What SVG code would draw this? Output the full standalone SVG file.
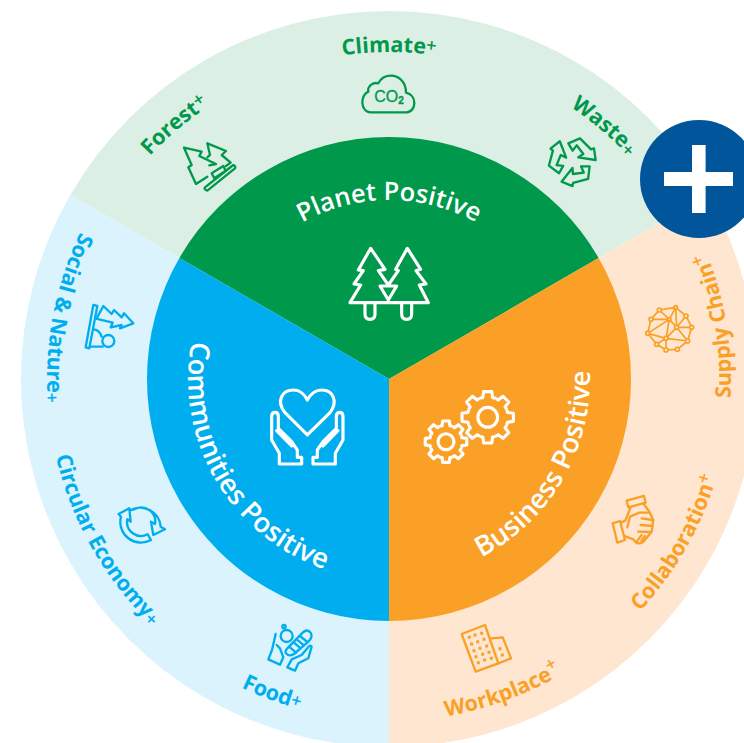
<svg xmlns="http://www.w3.org/2000/svg" width="744" height="743" viewBox="0 0 744 743">
<style>
text{font-family:"Open Sans","Noto Sans","Liberation Sans",sans-serif;text-anchor:middle}
.in{font-size:27.5px;font-weight:600;fill:#fff}
.out{font-size:21.5px;font-weight:700}
.p{font-size:18px;font-weight:600}
.g{fill:#00984A}.b{fill:#00AEEF}.o{fill:#FAA026}
.ic{fill:none;stroke-linejoin:round;stroke-linecap:round;stroke-width:7}
.w{stroke:#fff;stroke-width:9.5}.sg{stroke:#00984A}.sb{stroke:#00AEEF}.so{stroke:#FAA026}
</style>
<defs>
<path id="top327" d="M62,379A327,327 0 0 1 716,379"/>
<path id="top179" d="M210,379A179,179 0 0 1 568,379"/>
<path id="bot342" d="M47,379A342,342 0 0 0 731,379"/>
<path id="bot201" d="M188,379A201,201 0 0 0 590,379"/>
<path id="t" d="M72.1,-29.8Q76,-24 75.7,-18.9L98.8,-15.6L98.8,15.6L75.7,18.9Q76,24 72.1,29.8"/>
<g id="t2"><use href="#t"/><use href="#t" transform="rotate(45)"/></g>
<g id="t4"><use href="#t2"/><use href="#t2" transform="rotate(90)"/></g>
<g id="gear"><use href="#t4"/><use href="#t4" transform="rotate(180)"/></g>
<path id="rec" d="M115,190L150,175L183,208L192,205L197,240L145,232L160,222L140,196L128,212Z"/>
</defs>

<g id="outer-ring">
<path d="M389,379L70.3,195A368,368 0 0 1 707.7,195Z" fill="#DBEFE5"/>
<path d="M389,379L707.7,195A368,368 0 0 1 389,747Z" fill="#FEE6D0"/>
<path d="M389,379L389,747A368,368 0 0 1 70.3,195Z" fill="#DAF3FC"/>
</g>
<g id="connectors"></g>

<g id="planet-positive">
<path d="M389,379L179.4,258A242,242 0 0 1 598.6,258Z" fill="#00984A"/>
<text class="in" style="font-size:25.5px"><textPath href="#top179" startOffset="50%">Planet Positive</textPath></text>
<g class="ic w" transform="translate(330,230) scale(.3333)">
<path d="M122,55L85,120L100,122L72,162L92,165L60,218H295L268,165L288,162L258,122L272,118L232,55L197,118L205,122L175,165L145,122L165,118Z"/>
<path d="M150,168H200L175,210Z"/>
<path d="M105,220V252Q105,268 120,268Q135,268 135,252V220M215,220V252Q215,268 230,268Q245,268 245,252V220"/>
</g>
</g>

<g id="communities-positive">
<path d="M389,379L389,621A242,242 0 0 1 179.4,258Z" fill="#00AEEF"/>
<text class="in" transform="rotate(59.8 389 379)"><textPath href="#bot201" startOffset="50%">Communities Positive</textPath></text>
<g class="ic w" transform="translate(250,370) scale(.3333)">
<path d="M172,195L105,128C78,95 95,60 130,60C150,60 165,75 172,90C180,75 195,60 215,60C250,60 265,95 240,128Z"/>
<path d="M88,250L65,210V140Q65,127 75,127Q85,127 85,140V175L125,215L142,240V262H155V282H88ZM80,182L125,228"/>
<path d="M256,250L279,210V140Q279,127 269,127Q259,127 259,140V175L219,215L202,240V262H189V282H256ZM264,182L219,228"/>
</g>
</g>

<g id="business-positive">
<path d="M389,379L598.6,258A242,242 0 0 1 389,621Z" fill="#FAA026"/>
<text class="in" transform="rotate(-59.9 389 379)"><textPath href="#bot201" startOffset="50%">Business Positive</textPath></text>
<g fill="none" stroke="#fff" stroke-linejoin="round" transform="translate(410,370)">
<g transform="translate(77.7,47.3) scale(.26)" stroke-width="12"><use href="#gear"/><circle r="38"/></g>
<g transform="translate(36,71.7) scale(.21)" stroke-width="15"><use href="#gear"/><circle r="38"/></g>
</g>
</g>

<g id="climate">
<text class="out g"><textPath href="#top327" startOffset="50%">Climate<tspan class="p" dy="-3">+</tspan></textPath></text>
<g class="ic sg" transform="translate(280,0) scale(.3333)">
<path d="M272,337H380C410,335 412,285 378,278C378,245 355,225 330,227C310,228 300,240 295,250C275,245 262,262 265,275C240,285 240,335 272,337Z"/>
</g>
<text x="389" y="102" style="font-family:'Liberation Sans',sans-serif;font-size:16px;fill:#00984A;stroke:#00984A;stroke-width:.3">CO<tspan font-size="10" font-weight="700" dy="2">2</tspan></text>
</g>

<g id="forest">
<text class="out g" transform="rotate(-40.2 389 379)"><textPath href="#top327" startOffset="50%">Forest<tspan class="p" dy="-5">+</tspan></textPath></text>
<g class="ic sg" transform="translate(120,80) scale(.3333)">
<path d="M192,203L245,215L238,228L288,252L268,256M192,203L215,255L205,262L228,312L262,290"/>
<path d="M262,190L318,213L305,225L332,248L318,258M262,190L270,225L262,232"/>
<path d="M255,322L340,255Q348,258 345,265L262,332Q250,328 255,322Z"/>
<path d="M275,280L310,258L317,272L283,295Z"/>
</g>
</g>

<g id="waste">
<text class="out g" transform="rotate(40.4 389 379)"><textPath href="#top327" startOffset="50%">Waste<tspan class="p" dy="2">+</tspan></textPath></text>
<g class="ic sg" transform="translate(530,80) scale(.3333)">
<use href="#rec"/><use href="#rec" transform="rotate(120 127 243)"/><use href="#rec" transform="rotate(240 127 243)"/>
</g>
</g>

<g id="supply-chain">
<text class="out o" transform="rotate(-99.3 389 379)"><textPath href="#bot342" startOffset="50%">Supply Chain<tspan class="p" dy="-6">+</tspan></textPath></text>
<g class="ic so" transform="translate(640,250) scale(.3333)" style="stroke-width:5">
<path d="M58,180L107,172L138,198L155,232L143,273L112,298L78,300L50,283L23,250L33,208L58,180L88,208L107,172L110,232L138,198M33,208L88,208L110,232L155,232M88,208L23,250M88,208L78,265L110,232L143,273L78,265L23,250M78,265L50,283M78,265V300M112,298L143,273"/>
<g fill="#FEE6D0"><circle cx="58" cy="180" r="6"/><circle cx="107" cy="172" r="5"/><circle cx="138" cy="198" r="6"/><circle cx="155" cy="232" r="6"/><circle cx="143" cy="273" r="6"/><circle cx="112" cy="298" r="6"/><circle cx="78" cy="300" r="6"/><circle cx="50" cy="283" r="6"/><circle cx="23" cy="250" r="6"/><circle cx="33" cy="208" r="6"/><circle cx="88" cy="208" r="5"/><circle cx="110" cy="232" r="6"/><circle cx="78" cy="265" r="6"/></g>
</g>
</g>

<g id="collaboration">
<text class="out o" transform="rotate(-60.3 389 379)"><textPath href="#bot342" startOffset="50%">Collaboration<tspan class="p" dy="-6">+</tspan></textPath></text>
<g class="ic so" transform="translate(600,470) scale(.3333)">
<path d="M80,92L132,78L137,98L85,112Z"/>
<path d="M38,160L60,153L75,210L52,218Z"/>
<path d="M92,112L76,152L63,158M130,100L148,125L160,150L155,185L130,215Q110,228 100,208L74,198"/>
<path d="M82,172L90,140L118,128L148,128M125,145L158,150M122,165L158,168M115,185L150,186M110,215L125,195M124,212L135,198"/>
</g>
</g>

<g id="workplace">
<text class="out o" transform="rotate(-20 389 379)"><textPath href="#bot342" startOffset="50%">Workplace<tspan class="p" dy="-8">+</tspan></textPath></text>
<g class="ic so" transform="translate(430,620) scale(.3333)">
<path d="M95,42L165,15L205,130L137,155Z"/>
<path d="M185,55L218,52L243,115L205,130"/>
<path style="stroke-width:9;stroke-linecap:square" d="M118,52h0M135,45h0M155,40h0M125,72h0M143,65h0M162,58h0M132,92h0M150,85h0M170,78h0M138,110h0M158,103h0M177,97h0M145,128h0M164,120h0M184,115h0M210,86h0M217,105h0"/>
</g>
</g>

<g id="food">
<text class="out b" transform="rotate(20.4 389 379)"><textPath href="#bot342" startOffset="50%">Food<tspan class="p" dy="-1">+</tspan></textPath></text>
<g class="ic sb" transform="translate(230,620) scale(.3333)">
<circle cx="170" cy="48" r="18"/><circle cx="162" cy="20" r="5"/>
<path d="M172,85L218,38Q232,25 242,38Q250,50 235,65L192,102Q178,110 170,102Q162,95 172,85Z"/>
<path d="M192,68L212,85M200,58L222,76M210,48L232,66M180,82L198,98"/>
<path d="M137,42L126,90L115,118L150,134L160,112L150,85L140,75"/>
<path d="M245,80L235,115L205,130L195,152L172,142L185,118L215,105L232,85Q240,72 245,80Z"/>
</g>
</g>

<g id="circular-economy">
<text class="out b" transform="rotate(60.4 389 379)"><textPath href="#bot342" startOffset="50%">Circular Economy<tspan class="p" dy="2">+</tspan></textPath></text>
<g class="ic sb" transform="translate(40,440) scale(.3333)">
<path d="M272,210A62,62 0 0 1 362,260L375,268L340,285L333,245L345,252A42,42 0 0 0 283,208Z"/>
<path d="M333,300A62,62 0 0 1 243,230L236,222L268,205L272,245L262,238A42,42 0 0 0 323,283Z"/>
</g>
</g>

<g id="social-nature">
<text class="out b" transform="rotate(100.7 389 379)"><textPath href="#bot342" startOffset="50%">Social &amp; Nature<tspan class="p" dy="2">+</tspan></textPath></text>
<g class="ic sb" transform="translate(40,220) scale(.3333)">
<path d="M160,255L172,258L148,385L137,382Z"/>
<path d="M170,295L190,258L215,282L222,270L245,292L252,280L280,310L240,325L245,315L212,322L218,308L168,296"/>
<circle cx="205" cy="363" r="18"/>
<path d="M150,380H188M185,350C180,335 170,328 160,328"/>
</g>
</g>

<g id="plus">
<circle cx="699" cy="179" r="59" fill="#00559B"/>
<path d="M692,145H705.6V172H733V186H705.6V213H692V186H664V172H692Z" fill="#fff"/>
</g>
</svg>
